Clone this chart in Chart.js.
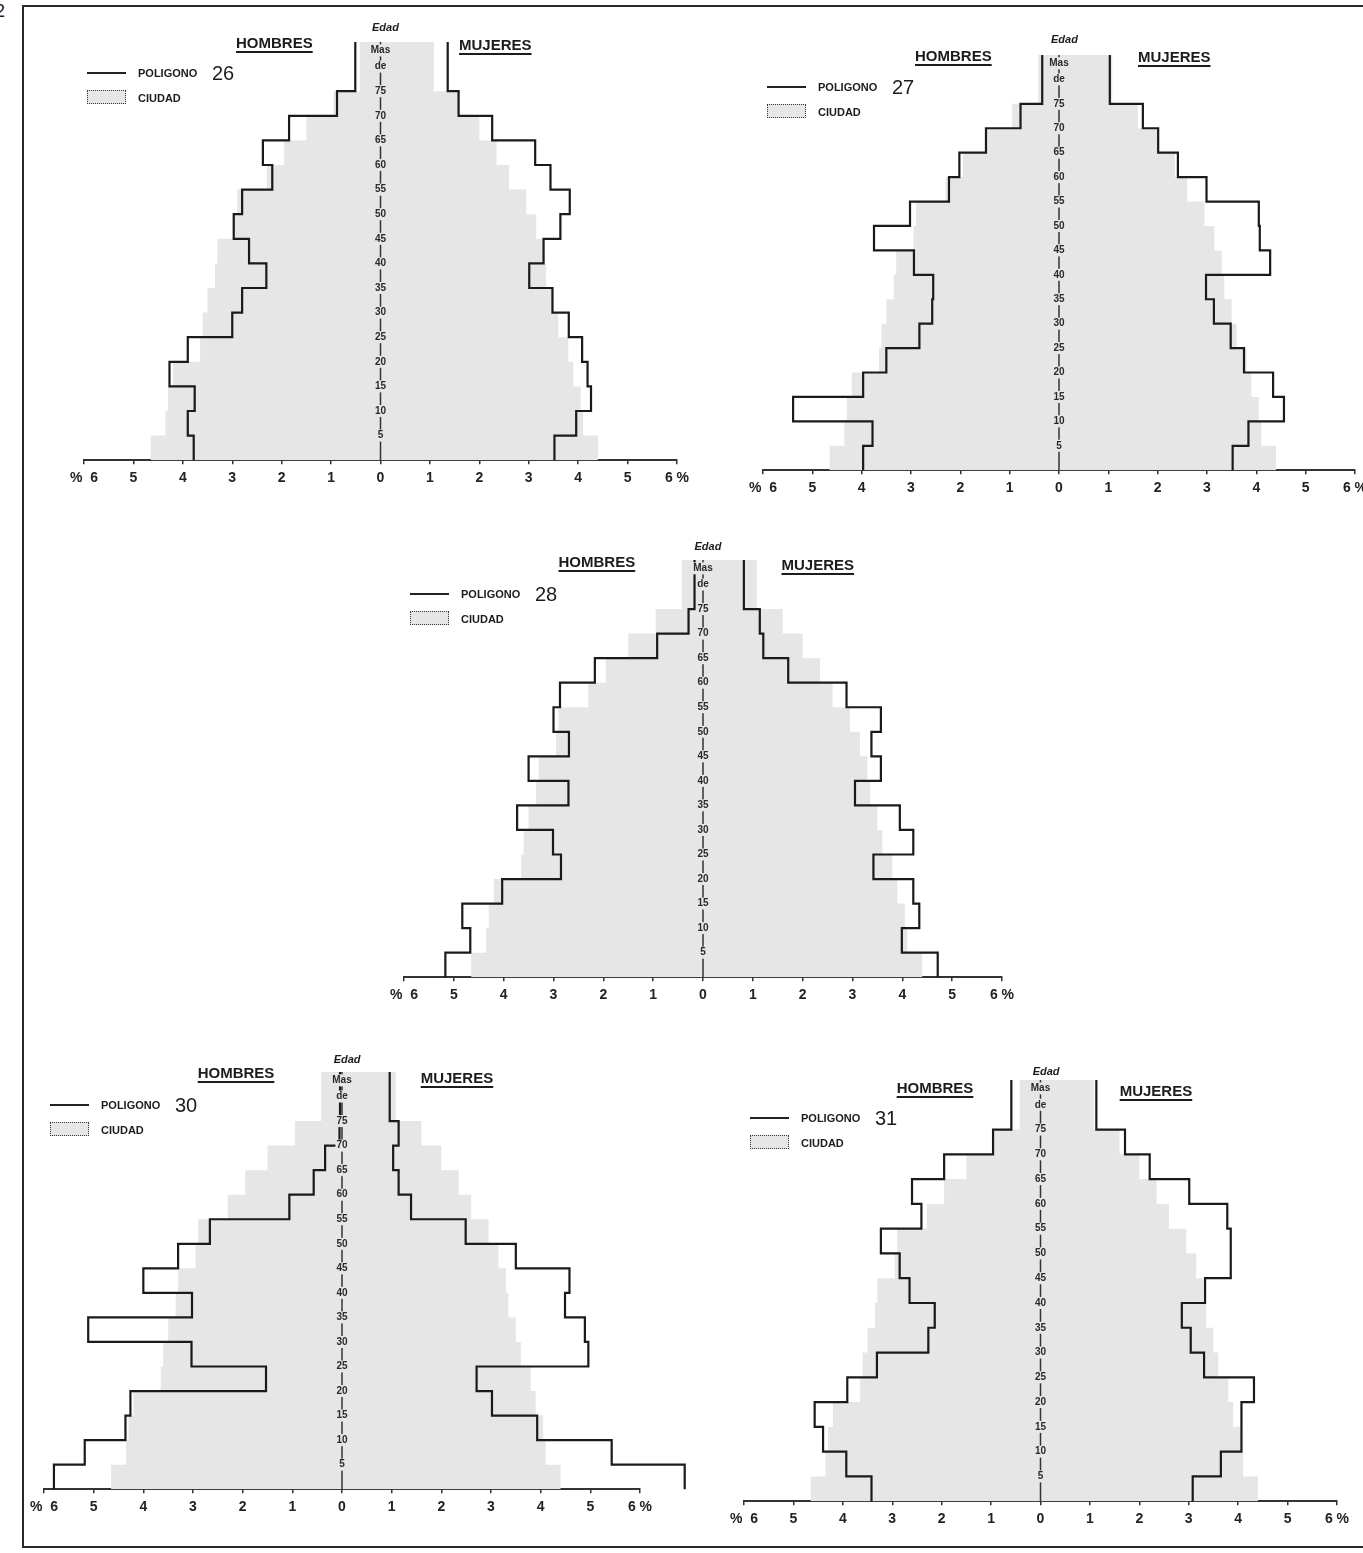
<!DOCTYPE html>
<html>
<head>
<meta charset="utf-8">
<script src="https://cdn.jsdelivr.net/npm/chart.js@4.4.1/dist/chart.umd.min.js"></script>
<style>
  body { margin: 0; background: #fff; width: 1363px; height: 1553px; position: relative; overflow: hidden; font-family: 'Liberation Sans', Arial, sans-serif; color: #1c1c1c; }
  .frame { position: absolute; left: 22px; top: 5px; width: 1400px; height: 1539px; border-left: 2px solid #2a2a2a; border-top: 2px solid #2a2a2a; border-bottom: 2px solid #2a2a2a; }
  .abs { position: absolute; white-space: nowrap; }
  .hdr { font-weight: bold; font-size: 15px; line-height: 15px; text-decoration: underline; text-decoration-thickness: 2px; text-underline-offset: 3px; }
  .edad { font-weight: bold; font-style: italic; font-size: 11px; line-height: 11px; }
  .leg { font-weight: bold; font-size: 11px; line-height: 11px; }
  .num { font-size: 20px; line-height: 20px; }
  .legline { height: 2px; width: 39px; background: #222; }
  .swatch { width: 37px; height: 12px; border: 1.5px dotted #333; background: #e6e6e6; }
  canvas { position: absolute; }
</style>
</head>
<body>
<div class="frame"></div>
<div class="abs" style="left:-5px;top:1px;font-size:18px;">2</div>
<script>
// age groups: 0-4 ... 70-74, 75 y mas
const ageStarts = [0, 5, 10, 15, 20, 25, 30, 35, 40, 45, 50, 55, 60, 65, 70, 75];
const ageTop = 85;
const ageTickValues = [5, 10, 15, 20, 25, 30, 35, 40, 45, 50, 55, 60, 65, 70, 75, 80, 83.3];
const ageTickLabels = ['5', '10', '15', '20', '25', '30', '35', '40', '45', '50', '55', '60', '65', '70', '75', 'de', 'Mas'];
const pctTickLabels = ['%  6', '5', '4', '3', '2', '1', '0', '1', '2', '3', '4', '5', '6 %'];

// Ciudad (same reference in every pyramid), % per age group
const ciudadHombres = [4.65, 4.35, 4.3, 4.2, 3.65, 3.6, 3.5, 3.35, 3.3, 2.95, 2.9, 2.3, 1.95, 1.5, 0.95, 0.42];
const ciudadMujeres = [4.4, 4.1, 4.05, 3.9, 3.8, 3.6, 3.5, 3.35, 3.3, 3.15, 2.95, 2.6, 2.35, 2.0, 1.6, 1.08];

// Poligonos
const pol26Hombres = [3.78, 3.90, 3.76, 4.27, 3.90, 3.00, 2.80, 2.31, 2.66, 2.97, 2.80, 2.19, 2.38, 1.85, 0.88, 0.51];
const pol26Mujeres = [3.52, 3.96, 4.26, 4.19, 4.08, 3.81, 3.48, 3.01, 3.30, 3.64, 3.83, 3.44, 3.13, 2.26, 1.58, 1.36];
const pol27Hombres = [3.97, 3.78, 5.39, 3.97, 3.50, 2.83, 2.57, 2.55, 2.94, 3.75, 3.02, 2.23, 2.02, 1.48, 0.78, 0.34];
const pol27Mujeres = [3.52, 3.84, 4.56, 4.34, 3.75, 3.48, 3.14, 2.98, 4.28, 4.07, 4.05, 2.99, 2.41, 2.01, 1.70, 1.03];
const pol28Hombres = [5.17, 4.67, 4.83, 4.03, 2.85, 3.01, 3.73, 2.70, 3.50, 2.69, 3.00, 2.87, 2.17, 0.92, 0.29, 0.17];
const pol28Mujeres = [4.71, 3.99, 4.34, 4.22, 3.42, 4.22, 3.95, 3.05, 3.57, 3.38, 3.57, 2.88, 1.71, 1.21, 1.14, 0.82];
const pol30Hombres = [5.80, 5.18, 4.36, 4.26, 1.53, 3.03, 5.11, 3.02, 4.00, 3.30, 2.66, 1.06, 0.57, 0.34, 0.05, 0.04];
const pol30Mujeres = [6.90, 5.43, 3.93, 3.02, 2.71, 4.96, 4.89, 4.49, 4.58, 3.50, 2.49, 1.39, 1.14, 1.03, 1.14, 0.96];
const pol31Hombres = [3.42, 3.93, 4.40, 4.57, 3.91, 3.31, 2.27, 2.14, 2.65, 2.85, 3.23, 2.41, 2.60, 1.95, 0.96, 0.59];
const pol31Mujeres = [3.08, 3.65, 4.06, 4.07, 4.32, 3.31, 3.04, 2.86, 3.33, 3.85, 3.85, 3.78, 3.01, 2.21, 1.71, 1.13];

const CITY = '#e6e6e6';
const INK = '#1a1a1a';

// where each pyramid sits on the page
const pyramids = [
    { name: '26', men: pol26Hombres, women: pol26Mujeres, x0: 380, ppx: 49.4, yBase: 462, yTop: 42, hY: 35, mY: 37, eY: 22, legX: 87, legY: 73 },
    { name: '27', men: pol27Hombres, women: pol27Mujeres, x0: 1059, ppx: 49.3, yBase: 472, yTop: 55, hY: 48, mY: 49, eY: 34, legX: 767, legY: 87 },
    { name: '28', men: pol28Hombres, women: pol28Mujeres, x0: 702.5, ppx: 49.8, yBase: 979, yTop: 560, hY: 554, mY: 557, eY: 541, legX: 410, legY: 594 },
    { name: '30', men: pol30Hombres, women: pol30Mujeres, x0: 341.7, ppx: 49.7, yBase: 1491, yTop: 1072, hY: 1065, mY: 1070, eY: 1054, legX: 50, legY: 1105 },
    { name: '31', men: pol31Hombres, women: pol31Mujeres, x0: 1040.7, ppx: 49.4, yBase: 1503, yTop: 1080, hY: 1080, mY: 1083, eY: 1066, legX: 750, legY: 1118 }
];

function stepLine(vals, sign) {
    const pts = [];
    vals.forEach((v, i) => {
        const y1 = i + 1 < ageStarts.length ? ageStarts[i + 1] : ageTop;
        pts.push({ x: sign * v, y: ageStarts[i] }, { x: sign * v, y: y1 });
    });
    return pts;
}

function areaShape(vals, sign) {
    return [{ x: 0, y: 0 }, ...stepLine(vals, sign), { x: 0, y: ageTop }];
}

function addDiv(cls, text, left, top) {
    const d = document.createElement('div');
    d.className = 'abs ' + cls;
    d.textContent = text;
    d.style.left = left + 'px';
    d.style.top = top + 'px';
    document.body.appendChild(d);
    return d;
}

// age column drawn on the x = 0 line
const ageAxis = {
    id: 'ageAxis',
    afterDatasetsDraw(chart) {
        const ctx = chart.ctx;
        const xs = chart.scales.x, ys = chart.scales.y;
        const cx = xs.getPixelForValue(0);
        ctx.save();
        ctx.strokeStyle = '#333';
        ctx.lineWidth = 1.5;
        ctx.beginPath();
        ctx.moveTo(cx, ys.getPixelForValue(0));
        ctx.lineTo(cx, ys.getPixelForValue(ageTop));
        ctx.stroke();
        ctx.font = 'bold 10px "Liberation Sans", Arial, sans-serif';
        ctx.textAlign = 'center';
        ctx.textBaseline = 'middle';
        ageTickValues.forEach((v, i) => {
            const y = ys.getPixelForValue(v);
            const w = ctx.measureText(ageTickLabels[i]).width;
            ctx.fillStyle = CITY;
            ctx.fillRect(cx - w / 2 - 1, y - 6, w + 2, 12);
            ctx.fillStyle = '#2a2a2a';
            ctx.fillText(ageTickLabels[i], cx, y);
        });
        ctx.restore();
    }
};

const PT = 4, PL = 40, PR = 60, AXH = 31;

pyramids.forEach(p => {
    const canvas = document.createElement('canvas');
    const w = PL + 12 * p.ppx + PR;
    const h = PT + (p.yBase - p.yTop) + AXH;
    canvas.width = Math.round(w);
    canvas.height = Math.round(h);
    canvas.style.left = (p.x0 - 6 * p.ppx - PL) + 'px';
    canvas.style.top = (p.yTop - PT) + 'px';
    canvas.style.width = Math.round(w) + 'px';
    canvas.style.height = Math.round(h) + 'px';
    document.body.appendChild(canvas);

    new Chart(canvas, {
        type: 'scatter',
        data: {
            datasets: [
                { label: 'Ciudad hombres', data: areaShape(ciudadHombres, -1), showLine: true, fill: 'shape', backgroundColor: CITY, borderWidth: 0, pointRadius: 0, pointHoverRadius: 0, order: 3 },
                { label: 'Ciudad mujeres', data: areaShape(ciudadMujeres, 1), showLine: true, fill: 'shape', backgroundColor: CITY, borderWidth: 0, pointRadius: 0, pointHoverRadius: 0, order: 3 },
                { label: 'Poligono ' + p.name + ' hombres', data: stepLine(p.men, -1), showLine: true, fill: false, borderColor: INK, borderWidth: 2.2, pointRadius: 0, pointHoverRadius: 0, order: 1, clip: false },
                { label: 'Poligono ' + p.name + ' mujeres', data: stepLine(p.women, 1), showLine: true, fill: false, borderColor: INK, borderWidth: 2.2, pointRadius: 0, pointHoverRadius: 0, order: 1, clip: false }
            ]
        },
        options: {
            responsive: false,
            animation: false,
            layout: { padding: { top: PT, left: PL, right: PR, bottom: 0 } },
            plugins: { legend: { display: false }, tooltip: { enabled: false } },
            scales: {
                x: {
                    type: 'linear', min: -6, max: 6,
                    ticks: {
                        stepSize: 1, autoSkip: false, maxRotation: 0, padding: 6,
                        color: '#222',
                        font: { family: '"Liberation Sans", Arial, sans-serif', size: 14, weight: 'bold' },
                        callback: (v, i) => pctTickLabels[i]
                    },
                    grid: { drawOnChartArea: false, tickLength: 4, color: '#333', lineWidth: 1.5 },
                    border: { color: '#333', width: 2 }
                },
                y: { type: 'linear', min: 0, max: ageTop, display: false }
            }
        },
        plugins: [ageAxis]
    });

    addDiv('hdr', 'HOMBRES', p.x0 - 144, p.hY);
    addDiv('hdr', 'MUJERES', p.x0 + 79, p.mY);
    addDiv('edad', 'Edad', p.x0 - 8, p.eY);
    addDiv('legline', '', p.legX, p.legY - 1);
    addDiv('leg', 'POLIGONO', p.legX + 51, p.legY - 5);
    addDiv('num', p.name, p.legX + 125, p.legY - 10);
    addDiv('swatch', '', p.legX, p.legY + 17);
    addDiv('leg', 'CIUDAD', p.legX + 51, p.legY + 20);
});
</script>
</body>
</html>
